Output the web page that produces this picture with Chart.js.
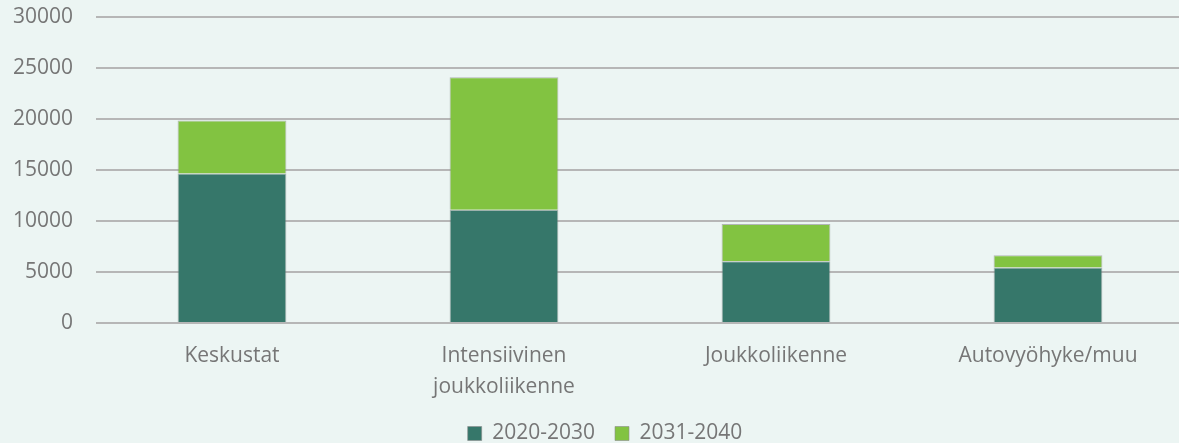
<!DOCTYPE html>
<html>
<head>
<meta charset="utf-8">
<script src="https://cdn.jsdelivr.net/npm/chart.js@4"></script>
<style>
  html, body { margin: 0; padding: 0; overflow: hidden; background: #ECF5F3; width: 1179px; height: 443px; }
  #wrap { position: absolute; left: 0; top: 0; width: 1184px; height: 454px; }
</style>
</head>
<body>
<div id="wrap"><canvas id="c"></canvas></div>
<script>
const categories = [["Keskustat"], ["Intensiivinen", "joukkoliikenne"], ["Joukkoliikenne"], ["Autovyöhyke/muu"]];
const seriesNames = ["2020-2030", "2031-2040"];
const values2020_2030 = [14650, 11100, 6050, 5450];
const values2031_2040 = [5200, 13000, 3650, 1200];
const yTicks = [0, 5000, 10000, 15000, 20000, 25000, 30000];

const textColor = '#767676';
const font = { family: "'Open Sans', 'Noto Sans', sans-serif", size: 21 };

const legendShift = {
  id: 'legendShift',
  afterLayout(chart) {
    const lg = chart.legend;
    if (lg) { lg.left += 13; lg.right += 13; }
  }
};

new Chart(document.getElementById('c'), {
  type: 'bar',
  data: {
    labels: categories,
    datasets: [
      { label: seriesNames[0], data: values2020_2030, backgroundColor: '#36776A', borderColor: 'rgba(140,140,140,0.6)', borderWidth: 1 },
      { label: seriesNames[1], data: values2031_2040, backgroundColor: '#82C341', borderColor: 'rgba(140,140,140,0.6)', borderWidth: 1 }
    ]
  },
  plugins: [legendShift],
  options: {
    responsive: true,
    maintainAspectRatio: false,
    animation: false,
    layout: { padding: { left: 0, right: 0, top: 17, bottom: 0 } },
    datasets: { bar: { categoryPercentage: 1.0, barPercentage: 0.4 } },
    plugins: {
      tooltip: { enabled: false },
      legend: {
        position: 'bottom',
        labels: { boxWidth: 14, boxHeight: 14, padding: 20, color: textColor, font: font }
      }
    },
    scales: {
      x: {
        stacked: true,
        grid: { display: false, drawTicks: false },
        border: { display: false },
        ticks: { color: textColor, font: Object.assign({}, font, { lineHeight: 1.48 }), padding: 17, maxRotation: 0, autoSkip: false },
        afterFit: (s) => { s.height = 80; }
      },
      y: {
        stacked: true,
        min: 0, max: 30000,
        afterBuildTicks: (s) => { s.ticks = yTicks.map(v => ({ value: v })); },
        grid: { color: '#B6B6B6', lineWidth: 2, drawTicks: false },
        border: { display: false },
        ticks: { color: textColor, font: font, padding: 23, callback: (v) => String(v) },
        afterFit: (s) => { s.width = 96; s.paddingTop = 0; s.paddingBottom = 0; }
      }
    }
  }
});
</script>
</body>
</html>
